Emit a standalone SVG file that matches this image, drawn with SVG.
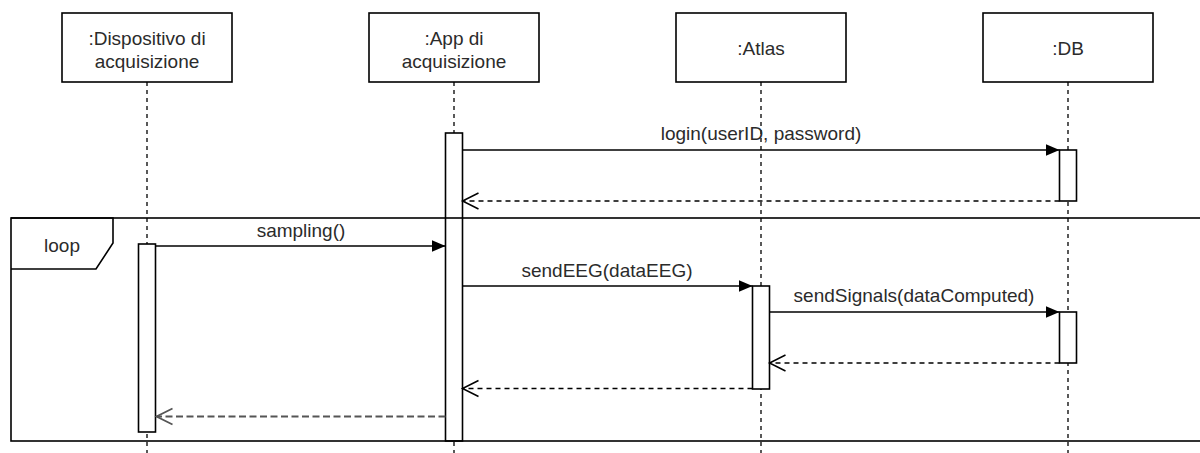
<svg xmlns="http://www.w3.org/2000/svg" width="1200" height="453" viewBox="0 0 1200 453">
  <style>
    .box { fill: #ffffff; stroke: #000000; stroke-width: 1.6; }
    .act { fill: #ffffff; stroke: #000000; stroke-width: 1.6; }
    .life { fill: none; stroke: #000000; stroke-width: 1.3; stroke-dasharray: 4 4; }
    .msg { fill: none; stroke: #000000; stroke-width: 1.5; }
    .ret { fill: none; stroke: #000000; stroke-width: 1.5; stroke-dasharray: 5 4; }
    .ret2 { fill: none; stroke: #555555; stroke-width: 2; stroke-dasharray: 7 3.5; }
    .frame { fill: none; stroke: #000000; stroke-width: 1.6; }
    text { font-family: "Liberation Sans", Arial, Helvetica, sans-serif; font-size: 19px; fill: #2b2b2b; text-anchor: middle; }
  </style>
  <defs>
    <marker id="filled" markerUnits="userSpaceOnUse" markerWidth="16" markerHeight="14" refX="14" refY="6" orient="auto">
      <path d="M0,0 L14,6 L0,12 Z" fill="#000000"/>
    </marker>
    <marker id="open" markerUnits="userSpaceOnUse" markerWidth="20" markerHeight="20" refX="17" refY="9" orient="auto">
      <path d="M1,1 L17,9 L1,17" fill="none" stroke="#000000" stroke-width="1.5"/>
    </marker>
    <marker id="open2" markerUnits="userSpaceOnUse" markerWidth="20" markerHeight="20" refX="17" refY="9" orient="auto">
      <path d="M1,1 L17,9 L1,17" fill="none" stroke="#555555" stroke-width="1.8"/>
    </marker>
  </defs>

  <!-- lifelines -->
  <g id="lifelines">
    <line class="life" x1="147" y1="82" x2="147" y2="453"/>
    <line class="life" x1="454" y1="82" x2="454" y2="453"/>
    <line class="life" x1="761" y1="82" x2="761" y2="453"/>
    <line class="life" x1="1068" y1="82" x2="1068" y2="453"/>
  </g>

  <g id="dispositivo">
    <rect class="box" x="62" y="13" width="170" height="69"/>
    <text x="147" y="45">:Dispositivo di</text>
    <text x="147" y="68">acquisizione</text>
    <rect class="act" x="138.5" y="244" width="17" height="188"/>
  </g>

  <g id="app">
    <rect class="box" x="369" y="13" width="170" height="69"/>
    <text x="454" y="45">:App di</text>
    <text x="454" y="68">acquisizione</text>
    <rect class="act" x="445.5" y="133" width="17" height="308"/>
  </g>

  <g id="atlas">
    <rect class="box" x="676" y="13" width="170" height="69"/>
    <text x="761" y="55">:Atlas</text>
    <rect class="act" x="752.5" y="286" width="17" height="103"/>
  </g>

  <g id="db">
    <rect class="box" x="983" y="13" width="170" height="69"/>
    <text x="1068" y="55">:DB</text>
    <rect class="act" x="1059.5" y="150" width="17" height="51"/>
    <rect class="act" x="1059.5" y="312" width="17" height="51"/>
  </g>

  <g id="loop">
    <rect class="frame" x="11" y="218" width="1200" height="223"/>
    <path class="frame" d="M11,218 L113,218 L113,243 L96,269 L11,269"/>
    <text x="62" y="252">loop</text>
  </g>

  <g id="connectors">
    <line class="msg" x1="462.5" y1="150" x2="1059.5" y2="150" marker-end="url(#filled)"/>
    <text x="761" y="140">login(userID, password)</text>

    <line class="ret" x1="1059.5" y1="201" x2="462.5" y2="201" marker-end="url(#open)"/>

    <line class="msg" x1="155.5" y1="246" x2="445.5" y2="246" marker-end="url(#filled)"/>
    <text x="301" y="237">sampling()</text>

    <line class="msg" x1="462.5" y1="286" x2="752.5" y2="286" marker-end="url(#filled)"/>
    <text x="607" y="277">sendEEG(dataEEG)</text>

    <line class="msg" x1="769.5" y1="312" x2="1059.5" y2="312" marker-end="url(#filled)"/>
    <text x="914" y="302">sendSignals(dataComputed)</text>

    <line class="ret" x1="1059.5" y1="363" x2="769.5" y2="363" marker-end="url(#open)"/>

    <line class="ret" x1="752.5" y1="388.5" x2="462.5" y2="388.5" marker-end="url(#open)"/>

    <line class="ret2" x1="445.5" y1="416.5" x2="156.5" y2="416.5" marker-end="url(#open2)"/>
  </g>
</svg>
